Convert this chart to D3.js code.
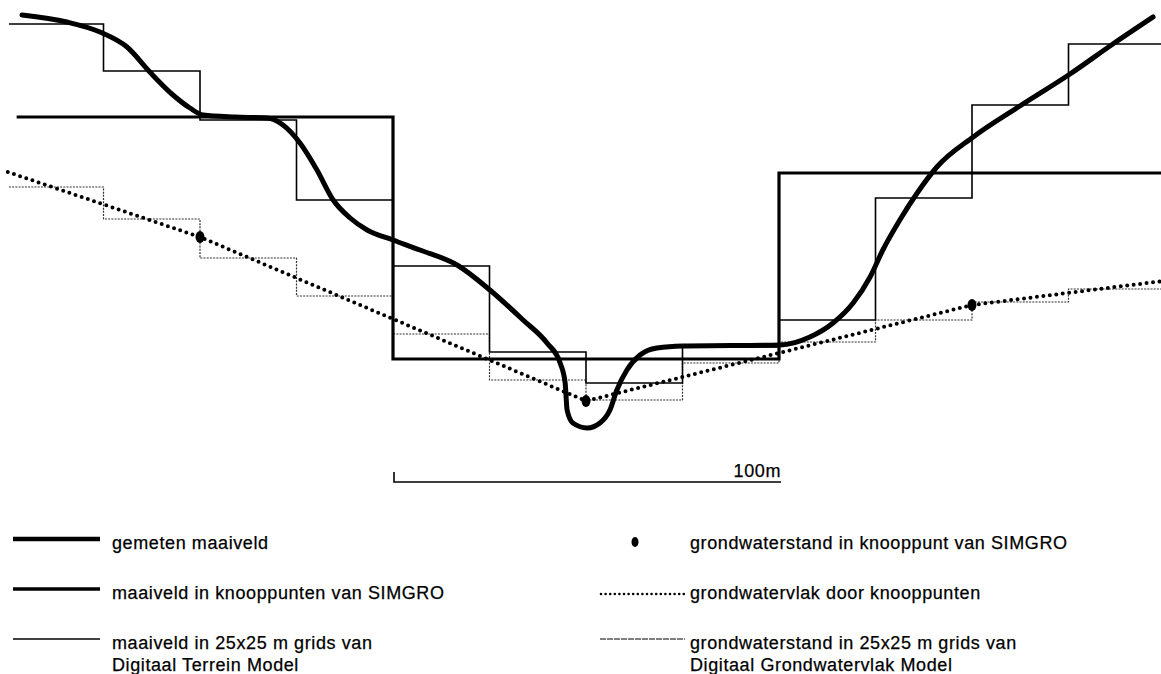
<!DOCTYPE html>
<html>
<head>
<meta charset="utf-8">
<script src="https://cdn.jsdelivr.net/npm/d3@7"></script>
<style>
  body { margin: 0; background: #fff; }
  svg { display: block; }
  text { font-family: "Liberation Sans", Arial, sans-serif; font-size: 18px; letter-spacing: 0.6px; fill: #000; stroke: #000; stroke-width: 0.25px; }
</style>
</head>
<body>
<svg id="chart" width="1161" height="674"></svg>
<script>
// distance along the section (m) and height (arbitrary units)

// gemeten maaiveld
const measured_x = [-96.1, -84.5, -75.9, -68.9, -63.0, -57.0, -52.6, -49.2, -40.9, -32.6, -28.5, -24.1, -19.7, -15.5, -11.1, -6.7, 0,
  7.0, 16.6, 25.1, 33.7, 39.9, 43.3, 44.6, 45.1, 46.6, 50.3, 53.6, 56.2, 58.0, 60.6, 64.0, 68.4, 75.1, 100.3,
  108.0, 114.0, 119.2, 123.6, 126.9, 131.3, 135.8, 140.9, 150.3, 162.4, 175.4, 186.5, 196.9]
const measured_h = [42.5, 41.8, 40.8, 39.3, 36.8, 34.5, 33.2, 32.5, 32.3, 32.2, 31.5, 29.7, 27.0, 24.0, 22.2, 21.0, 20.0,
  19.0, 17.5, 15.0, 12.0, 9.7, 7.7, 5.7, 3.0, 1.7, 1.2, 1.7, 3.0, 5.0, 7.0, 8.5, 9.2, 9.4, 9.5,
  10.3, 11.7, 13.7, 16.3, 19.0, 22.0, 24.7, 27.3, 30.3, 33.4, 36.6, 39.6, 42.3]

// maaiveld in knooppunten van SIMGRO
const simgro_edges = [-97.5, 0, 100, 199.5]
const simgro_h = [32.3, 8.1, 26.7]

// 25x25 m grids
const grid_edges = [-99.5, -75, -50, -25, 0, 25, 50, 75, 100, 125, 150, 175, 199.5]
const dtm_h = [41.6, 36.9, 32.0, 24.0, 17.4, 8.8, 5.7, 9.3, 12.0, 24.2, 33.5, 39.6]
const dgm_h = [25.3, 22.1, 18.2, 14.4, 10.6, 6.0, 4.0, 7.7, 9.8, 12.0, 13.8, 15.1]

// grondwaterstand in knooppunten + vlak door knooppunten
const node_x = [-50, 50, 150]
const node_h = [20.3, 3.9, 13.5]
const gw_x = [-99.8, -50, 50, 150, 199.5]
const gw_h = [26.8, 20.3, 3.9, 13.5, 15.9]

const scale_bar = [0, 100]
const scale_label = '100m'

const legend_left = ['gemeten maaiveld', 'maaiveld in knooppunten van SIMGRO', 'maaiveld in 25x25 m grids van|Digitaal Terrein Model']
const legend_right = ['grondwaterstand in knooppunt van SIMGRO', 'grondwatervlak door knooppunten', 'grondwaterstand in 25x25 m grids van|Digitaal Grondwatervlak Model']

const svg = d3.select('#chart')
const x = d3.scaleLinear().domain([0, 100]).range([393, 779])
const y = d3.scaleLinear().domain([0, 44]).range([440, 0])

const line = d3.line().x(d => x(d[0])).y(d => y(d[1]))

// turn cell edges + levels into a stepped polyline
const steps = function (edges, levels) {
  return levels.flatMap((v, i) => [[edges[i], v], [edges[i + 1], v]])
}

const draw = function (pts, style, curve) {
  const p = svg.append('path')
    .attr('d', line.curve(curve || d3.curveLinear)(pts))
    .attr('fill', 'none')
  for (const k in style) p.attr(k, style[k])
  return p
}

const dgm_style = { stroke: '#333', 'stroke-width': 1.2, 'stroke-dasharray': '2,1.2' }
const dtm_style = { stroke: '#000', 'stroke-width': 1.6 }
const simgro_style = { stroke: '#000', 'stroke-width': 3.2 }
const gw_style = { stroke: '#000', 'stroke-width': 4, 'stroke-dasharray': '0,6.5', 'stroke-linecap': 'round' }
const measured_style = { stroke: '#000', 'stroke-width': 5, 'stroke-linecap': 'round' }

draw(steps(grid_edges, dgm_h), dgm_style)
draw(steps(grid_edges, dtm_h), dtm_style)
draw(steps(simgro_edges, simgro_h), simgro_style)
draw(d3.zip(gw_x, gw_h), gw_style)
draw(d3.zip(measured_x, measured_h), measured_style, d3.curveMonotoneX)

svg.selectAll('.node')
  .data(d3.zip(node_x, node_h))
  .join('ellipse')
  .attr('class', 'node')
  .attr('cx', d => x(d[0]))
  .attr('cy', d => y(d[1]))
  .attr('rx', 4.5)
  .attr('ry', 6)
  .attr('fill', '#000')

// scale bar
const bar_y = 482
svg.append('path')
  .attr('d', `M${x(scale_bar[0]) + 1},${bar_y - 10}V${bar_y}H${x(scale_bar[1]) + 2}`)
  .attr('fill', 'none').attr('stroke', '#000').attr('stroke-width', 1.6)
svg.append('text')
  .attr('x', x(scale_bar[1]) + 2).attr('y', bar_y - 5)
  .attr('text-anchor', 'end')
  .text(scale_label)

// legend
const rows = [539, 589, 639]
const label = function (tx, ty, txt) {
  txt.split('|').forEach((s, i) => {
    svg.append('text').attr('x', tx).attr('y', ty + 10 + i * 22).text(s)
  })
}
const sample = function (x0, x1, ty, style) {
  const p = svg.append('line').attr('x1', x0).attr('x2', x1).attr('y1', ty).attr('y2', ty)
  for (const k in style) p.attr(k, style[k])
}

sample(13, 100, rows[0], { stroke: '#000', 'stroke-width': 4.5 })
sample(13, 100, rows[1], { stroke: '#000', 'stroke-width': 3.5 })
sample(13, 100, rows[2], dtm_style)
legend_left.forEach((t, i) => label(112, rows[i], t))

svg.append('ellipse').attr('cx', 635).attr('cy', rows[0] + 3).attr('rx', 3.5).attr('ry', 5).attr('fill', '#000')
sample(601, 685, rows[1] + 5, { stroke: '#000', 'stroke-width': 2.6, 'stroke-dasharray': '0,4.6', 'stroke-linecap': 'round' })
sample(600, 685, rows[2], { stroke: '#000', 'stroke-width': 1.2, 'stroke-dasharray': '6,1' })
legend_right.forEach((t, i) => label(690, rows[i], t))
</script>
</body>
</html>
